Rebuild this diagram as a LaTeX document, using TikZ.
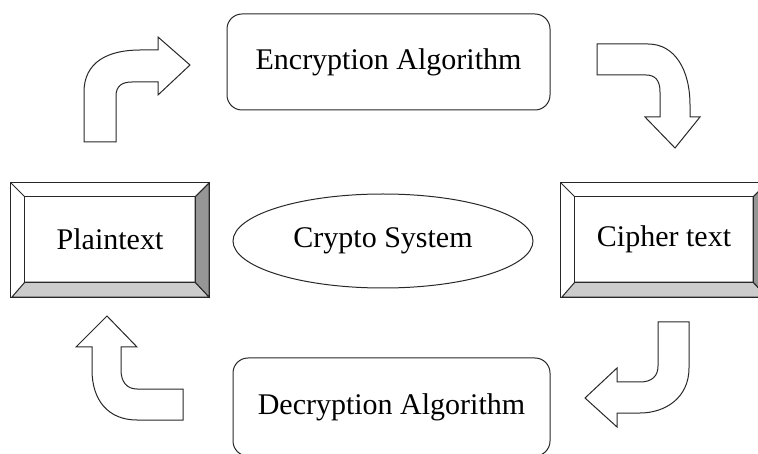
\documentclass[tikz,border=0pt]{standalone}
\usepackage{fontspec}
\setmainfont{Liberation Serif}
\usepackage{tikz}
\usepackage{xcolor}
\usetikzlibrary{calc,shapes.geometric}
\definecolor{edgegray}{RGB}{40,40,40}
\definecolor{bevlight}{RGB}{204,204,204}
\definecolor{bevdark}{RGB}{150,150,150}

% beveled frame around a named node
\newcommand{\bevelframe}[1]{%
  \coordinate (#1-nw) at ($(#1.north west)+(-14,-14)$);
  \coordinate (#1-ne) at ($(#1.north east)+(14,-14)$);
  \coordinate (#1-se) at ($(#1.south east)+(14,15)$);
  \coordinate (#1-sw) at ($(#1.south west)+(-13,15)$);
  \filldraw[outline,fill=bevlight] (#1-sw) -- (#1-se) -- (#1.south east) -- (#1.south west) -- cycle;
  \filldraw[outline,fill=bevdark] (#1-ne) -- (#1-se) -- (#1.south east) -- (#1.north east) -- cycle;
  \draw[outline] (#1-nw) rectangle (#1-se);
  \draw[outline] (#1-nw) -- (#1.north west) (#1-ne) -- (#1.north east);
  \draw[outline] (#1.north west) rectangle (#1.south east);
}

\begin{document}
\begin{tikzpicture}[x=1pt,y=-1pt,
  outline/.style={draw=edgegray,line width=1pt},
  label/.style={font=\fontsize{30}{36}\selectfont},
  algbox/.style={outline,label,rounded corners=15pt,minimum width=317pt,minimum height=96pt},
  bevbox/.style={label,minimum height=85pt,inner sep=0pt},
  turnarrow/.style={outline,fill=white,line join=miter}]
  \useasboundingbox (0,0) rectangle (758,454);
  % algorithm boxes
  \node[algbox,minimum width=323pt] (enc) at (388.5,62) {Encryption Algorithm};
  \node[algbox,minimum height=98pt] (dec) at (391.5,407) {Decryption Algorithm};
  % centre
  \node[ellipse,outline,label,minimum width=300pt,minimum height=94pt,inner sep=0pt]
        (sys) at (383,241) {Crypto System};
  % plaintext / cipher text
  \node[bevbox,minimum width=170pt] (plain) at (110,239.5) {Plaintext};
  \bevelframe{plain}
  \node[bevbox,minimum width=178pt] (cipher) at (664,239.5) {Cipher text};
  \bevelframe{cipher}
  % turning arrows
  \draw[turnarrow] (84,142) -- (84,92) .. controls (84,62) and (108,50) .. (140,50)
    -- (158,50) -- (158,37) -- (190,65) -- (158,95) -- (158,82) -- (132,82)
    .. controls (122,82) and (116,86) .. (116,96) -- (116,142) -- cycle;
  \draw[turnarrow] (597,44) -- (648,44) .. controls (675,44) and (690,70) .. (690,105)
    -- (690,117) -- (700,117) -- (675,148) -- (645,117) -- (660,117) -- (660,92)
    .. controls (660,80) and (655,75) .. (646,75) -- (597,75) -- cycle;
  \draw[turnarrow] (658,322) -- (689,322) -- (689,368) .. controls (689,398) and (665,413) .. (640,413)
    -- (617,413) -- (617,427) -- (585,398) -- (617,368) -- (617,382) -- (640,382)
    .. controls (652,382) and (658,376) .. (658,366) -- cycle;
  \draw[turnarrow] (183,389) -- (183,420) -- (137,420) .. controls (108,420) and (92,400) .. (92,370)
    -- (92,347) -- (76,347) -- (107,316) -- (137,347) -- (121,347) -- (121,370)
    .. controls (121,382) and (127,389) .. (137,389) -- cycle;
\end{tikzpicture}
\end{document}
